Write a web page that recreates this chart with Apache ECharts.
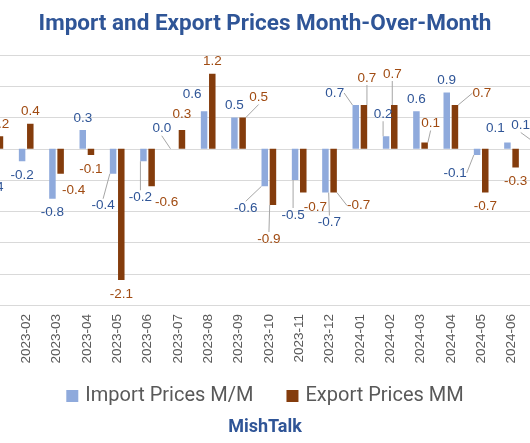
<!DOCTYPE html>
<html>
<head>
<meta charset="utf-8">
<script src="https://cdn.jsdelivr.net/npm/echarts@6/dist/echarts.min.js"></script>
<style>
html,body{margin:0;padding:0;background:#fff;}
#chart{width:530px;height:443px;}
</style>
</head>
<body>
<div id="chart"></div>
<script>
const categories = ['2023-01','2023-02','2023-03','2023-04','2023-05','2023-06','2023-07','2023-08','2023-09','2023-10','2023-11','2023-12','2024-01','2024-02','2024-03','2024-04','2024-05','2024-06','2024-07'];
const importPrices = [-0.4,-0.2,-0.8,0.3,-0.4,-0.2,0.0,0.6,0.5,-0.6,-0.5,-0.7,0.7,0.2,0.6,0.9,-0.1,0.1,0.1];
const exportPrices = [0.2,0.4,-0.4,-0.1,-2.1,-0.6,0.3,1.2,0.5,-0.9,-0.7,-0.7,0.7,0.7,0.1,0.7,-0.7,-0.3,0.7];
const yMin = -2.5, yMax = 1.5, yStep = 0.5;

// label displacement (as placed in the source chart)
const importDx = [0,0,0,0,-10,-3,-12,-12,0,-19,-2,4,-21,-3,0,0,-22,-12,-17];
const importDy = [0,0,0,0,18,22,-8,-5,0,8,21,16,0,-10,0,0,4,-2,-5];
const importLine = [0,0,0,0,1,1,1,0,0,1,1,1,1,1,0,0,1,0,1];
const exportDx = [0,0,13,0,0,15,0,0,16,-4,12,25,3,-2,6,27,0,0,0];
const exportDy = [0,0,3,0,0,2,-4,0,-8,20,1,-1,-15,-19,-7,0,0,0,0];
const exportLine = [0,0,0,0,0,0,0,0,1,1,0,1,1,1,1,1,0,0,0];

const IMPORT_BAR = '#8FAADC', EXPORT_BAR = '#843C0C';
const IMPORT_LBL = '#2F5597', EXPORT_LBL = '#A04B12';

function items(vals, lines) {
  return vals.map((v, i) => ({
    value: v,
    label: { position: v >= 0 ? 'top' : 'bottom', distance: v >= 0 ? 5 : 7 },
    labelLine: { show: !!lines[i] }
  }));
}

const chart = echarts.init(document.getElementById('chart'), null, {renderer: 'canvas'});
const lblFont = {fontFamily: 'Liberation Sans', fontSize: 13.5};
chart.setOption({
  animation: false,
  backgroundColor: '#fff',
  title: [
    {text: 'Import and Export Prices Month-Over-Month', left: 'center', top: 8,
     textStyle: {fontFamily: 'Roboto', fontWeight: 'bold', fontSize: 22.5, color: '#2F5597'}},
    {text: 'MishTalk', left: 'center', top: 413,
     textStyle: {fontFamily: 'Roboto', fontWeight: 'bold', fontSize: 18, color: '#2F5597'}}
  ],
  legend: {
    bottom: 32, left: 'center', icon: 'rect', itemWidth: 12, itemHeight: 12, itemGap: 33,
    textStyle: {fontFamily: 'Roboto', fontSize: 20, color: '#595959', padding: [0, 0, 0, 2]},
    data: ['Import Prices M/M', 'Export Prices MM']
  },
  grid: {left: -19.3, width: 576.3, top: 55, height: 250, containLabel: false, outerBoundsMode: 'none'},
  xAxis: {
    type: 'category', data: categories,
    axisLine: {show: false}, axisTick: {show: false},
    axisLabel: {rotate: 90, margin: 9, color: '#595959', fontFamily: 'Liberation Sans', fontSize: 13.5, interval: 0, showMinLabel: true, showMaxLabel: true, hideOverlap: false}
  },
  yAxis: {
    type: 'value', min: yMin, max: yMax, interval: yStep,
    axisLabel: {show: false}, axisLine: {show: false}, axisTick: {show: false},
    splitLine: {lineStyle: {color: '#D9D9D9', width: 1}}
  },
  series: [
    {
      name: 'Import Prices M/M', type: 'bar', barWidth: 6.5, barGap: '26%',
      itemStyle: {color: IMPORT_BAR},
      data: items(importPrices, importLine),
      label: {show: true, color: IMPORT_LBL, ...lblFont, formatter: p => p.value.toFixed(1)},
      labelLine: {lineStyle: {color: '#A6A6A6', width: 1}},
      labelLayout: p => ({dx: importDx[p.dataIndex], dy: importDy[p.dataIndex]})
    },
    {
      name: 'Export Prices MM', type: 'bar', barWidth: 6.5,
      itemStyle: {color: EXPORT_BAR},
      data: items(exportPrices, exportLine),
      label: {show: true, color: EXPORT_LBL, ...lblFont, formatter: p => p.value.toFixed(1)},
      labelLine: {lineStyle: {color: '#A6A6A6', width: 1}},
      labelLayout: p => ({dx: exportDx[p.dataIndex], dy: exportDy[p.dataIndex]})
    }
  ]
});
</script>
</body>
</html>
